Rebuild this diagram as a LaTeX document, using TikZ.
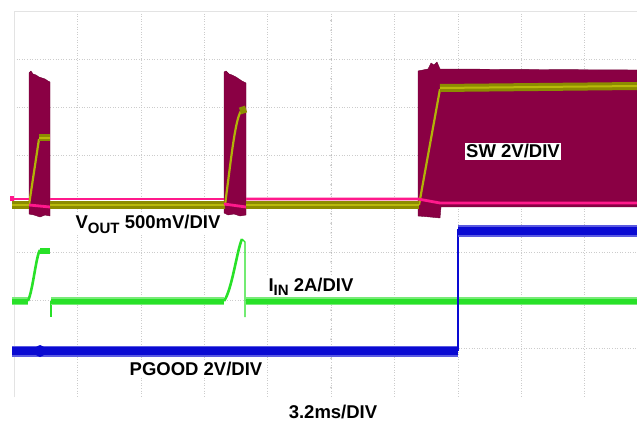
\documentclass[tikz,border=0pt]{standalone}
\usepackage{fontspec}
\setmainfont{Liberation Sans}
\definecolor{swc}{RGB}{138,0,68}
\definecolor{pinkc}{RGB}{255,25,140}
\definecolor{olivec}{RGB}{140,140,0}
\definecolor{olivel}{RGB}{185,185,10}
\definecolor{greenc}{RGB}{40,225,40}
\definecolor{greenl}{RGB}{120,235,120}
\definecolor{bluec}{RGB}{10,10,210}
\definecolor{bluel}{RGB}{90,90,225}
\begin{document}
\begin{tikzpicture}[x=1pt,y=-1pt,
  gridline/.style={gray!40, line width=0.6pt, dash pattern=on 1pt off 1.6pt},
  lbl/.style={font=\fontsize{18.5}{21}\selectfont\bfseries, inner sep=1.5pt, fill=white, text=black, anchor=base},
  burst/.style={fill=swc, draw=swc!80!black, line width=0.4pt, line join=round},
  olivetr/.style={olivec, line width=8pt},
  olivecore/.style={olivel, line width=2pt},
  oliveramp/.style={olivel!85!olivec, line width=2.2pt, line join=round},
  pinktr/.style={pinkc, line width=2.8pt, line join=round},
  greenfz/.style={greenl, line width=8pt},
  greentr/.style={greenc, line width=5pt},
  greenramp/.style={greenc, line width=2.6pt, line join=round},
  bluefz/.style={bluel, line width=11pt},
  bluetr/.style={bluec, line width=7.5pt},
  thinv/.style={line width=1.2pt}]
\useasboundingbox (0,0) rectangle (637,422);
\fill[white] (0,0) rectangle (637,422);
% grid
\foreach \i in {1,...,9} \draw[gridline] ({14+63.4*\i},11) -- ({14+63.4*\i},397);
\foreach \j in {1,...,7} \draw[gridline] (14,{11+48.25*\j}) -- (637,{11+48.25*\j});
\draw[gray!22, line width=0.8pt] (14,397) -- (14,11) -- (637,11);
\foreach \k in {1,...,39} \fill[gray!70] (331,{11+9.65*\k}) circle (0.7);
\foreach \k in {1,...,65} \fill[gray!70] ({14+9.68*\k},204) circle (0.7);

% SW bursts
\path[burst] (29,73) -- (31,71) -- (33,74) -- (36,75) -- (39,77) -- (42,78) -- (45,79) -- (48,81) -- (50,82)
  -- (50,216) -- (45,215) -- (40,217) -- (34,215) -- (29,214) -- cycle;
\path[burst] (224,72) -- (226,71) -- (229,74) -- (232,75) -- (236,77) -- (239,79) -- (242,81) -- (246,83)
  -- (246,215) -- (240,216) -- (234,214) -- (228,215) -- (224,213) -- cycle;
\path[burst] (418,71) -- (428,69) -- (431,63) -- (434,65) -- (437,62) -- (440,69) -- (637,70)
  -- (637,207) -- (441,207) -- (440,218) -- (430,217) -- (418,216) -- cycle;

% VOUT trace
\draw[oliveramp] (29,205) -- (39,139);
\draw[oliveramp] (225,205) .. controls (231,160) and (235,120) .. (241,111);
\draw[oliveramp] (419,205) -- (440,89);
\draw[olivetr] (12,205) -- (29,205);
\draw[olivetr] (50,205) -- (225,205);
\draw[olivetr] (246,205) -- (419,205);
\draw[olivetr, line width=7pt] (39,138) -- (50,138);
\draw[olivetr, line width=7pt] (240,111) -- (246,109);
\draw[olivetr] (440,88) -- (637,86);
\draw[olivecore] (12,205) -- (29,205);
\draw[olivecore] (50,205) -- (225,205);
\draw[olivecore] (246,205) -- (419,205);
\draw[olivecore] (39,138) -- (50,138);
\draw[olivecore] (440,88) -- (637,86);

% SW baseline (pink)
\draw[pinktr] (12,199) -- (29,199);
\draw[pinktr] (29,205) -- (50,207);
\draw[pinktr] (50,199) -- (224,199);
\draw[pinktr] (224,204) -- (246,207);
\draw[pinktr] (246,199) -- (418,199) -- (440,203) -- (637,203);
\fill[pinkc] (10,196) rectangle (14,201);

% IIN trace
\draw[greenfz] (12,301) -- (28,301);
\draw[greentr] (12,301) -- (28,301);
\draw[greenramp] (28,301) .. controls (33,290) and (36,256) .. (40,250);
\draw[greentr, line width=6pt] (40,251) -- (50,251);
\draw[greenc, thinv] (51,301) -- (51,317);
\draw[greenfz] (51,301) -- (224,301);
\draw[greentr] (51,301) -- (224,301);
\draw[greenramp] (224,301) .. controls (232,290) and (237,250) .. (242,239);
\draw[greenc, thinv] (242,239) -- (245,242) -- (245,317);
\draw[greenfz] (246,301) -- (637,301);
\draw[greentr] (246,301) -- (637,301);

% PGOOD trace
\draw[bluefz] (12,351) -- (458,351);
\draw[bluetr] (12,351) -- (458,351);
\fill[bluec] (40,351) ellipse (5 and 6);
\draw[bluec, thinv] (458,351) -- (458,229);
\draw[bluefz] (458,231) -- (637,231);
\draw[bluetr] (458,231) -- (637,231);

% labels
\node[lbl] (vout) at (148,229) {V\raisebox{-4.5pt}{\fontsize{15}{15}\selectfont OUT} 500mV/DIV};
\node[lbl] (sw) at (513,158) {SW 2V/DIV};
\node[lbl] (iin) at (311,291) {I\raisebox{-4.5pt}{\fontsize{15}{15}\selectfont IN} 2A/DIV};
\node[lbl] (pgood) at (196,375) {PGOOD 2V/DIV};
\node[lbl] (time) at (333,418) {3.2ms/DIV};
\end{tikzpicture}
\end{document}
